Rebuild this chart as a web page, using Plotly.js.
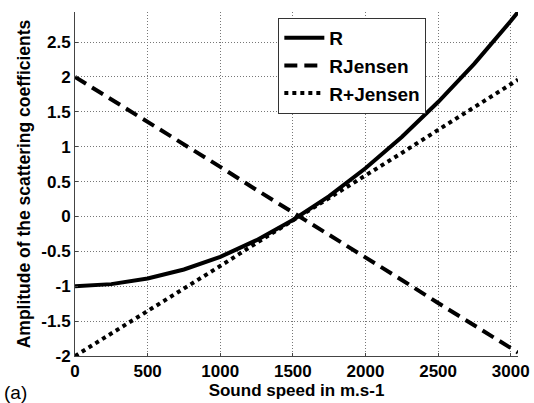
<!DOCTYPE html>
<html><head><meta charset="utf-8">
<script src="https://cdn.plot.ly/plotly-3.0.1.min.js"></script>
<style>html,body{margin:0;padding:0;background:#fff}#g{width:534px;height:403px}</style>
</head><body><div id="g"></div>
<script>
const speed = [0, 250, 500, 750, 1000, 1250, 1500, 1750, 2000, 2250, 2500, 2750, 3000, 3050];
const R = [-1.0, -0.97, -0.89, -0.76, -0.58, -0.34, -0.05, 0.29, 0.69, 1.14, 1.64, 2.19, 2.80, 2.93];
const RJensen = [2.0, 1.68, 1.35, 1.03, 0.71, 0.38, 0.06, -0.26, -0.59, -0.91, -1.24, -1.56, -1.88, -1.95];
const RplusJensen = [-2.0, -1.68, -1.35, -1.03, -0.71, -0.38, -0.06, 0.26, 0.59, 0.91, 1.24, 1.56, 1.88, 1.96];
const seriesNames = ["R", "RJensen", "R+Jensen"];
const xTicks = [0, 500, 1000, 1500, 2000, 2500, 3000];
const xTickText = ["0", "500", "1000", "1500", "2000", "2500", "3000"];
const yTicks = [-2, -1.5, -1, -0.5, 0, 0.5, 1, 1.5, 2, 2.5];
const yTickText = ["-2", "-1.5", "-1", "-0.5", "0", "0.5", "1", "1.5", "2", "2.5"];

const fam = "Liberation Sans, Arial, sans-serif";
const fnt = {family: fam, size: 17, color: "#000", weight: "bold"};
const traces = [
  {x: speed, y: R, name: seriesNames[0], mode: "lines", line: {color: "#000", width: 4}},
  {x: speed, y: RJensen, name: seriesNames[1], mode: "lines", line: {color: "#000", width: 4, dash: "13px,7px"}},
  {x: speed, y: RplusJensen, name: seriesNames[2], mode: "lines", line: {color: "#000", width: 4, dash: "4px,4px"}}
];
const ax = {
  showgrid: true, gridcolor: "#777", griddash: "1px,2px", gridwidth: 1,
  zeroline: false, showline: true, linecolor: "#444", linewidth: 1,
  ticks: "inside", ticklen: 3, tickcolor: "#444", tickfont: fnt, tickmode: "array"
};
const layout = {
  width: 534, height: 403,
  margin: {l: 75, r: 16, t: 12, b: 47},
  paper_bgcolor: "#fff", plot_bgcolor: "#fff",
  showlegend: true,
  legend: {x: 0.459, y: 0.983, xanchor: "left", yanchor: "top", bgcolor: "#fff",
    bordercolor: "#333", borderwidth: 1, tracegroupgap: 0, itemwidth: 40,
    font: {family: fam, size: 19, color: "#000", weight: "bold"}},
  xaxis: Object.assign({}, ax, {range: [0, 3050], tickvals: xTicks, ticktext: xTickText,
    title: {text: "Sound speed in m.s-1", font: fnt, standoff: 2}}),
  yaxis: Object.assign({}, ax, {range: [-2, 2.93], tickvals: yTicks, ticktext: yTickText,
    title: {text: "Amplitude of the scattering coefficients", font: {family: fam, size: 17.5, color: "#000", weight: "bold"}, standoff: 6}}),
  annotations: [{text: "(a)", xref: "paper", yref: "paper", x: -0.165, y: -0.07,
    xanchor: "left", yanchor: "top", showarrow: false,
    font: {family: fam, size: 19, color: "#000"}}]
};
Plotly.newPlot("g", traces, layout, {displayModeBar: false, staticPlot: true});
</script></body></html>
